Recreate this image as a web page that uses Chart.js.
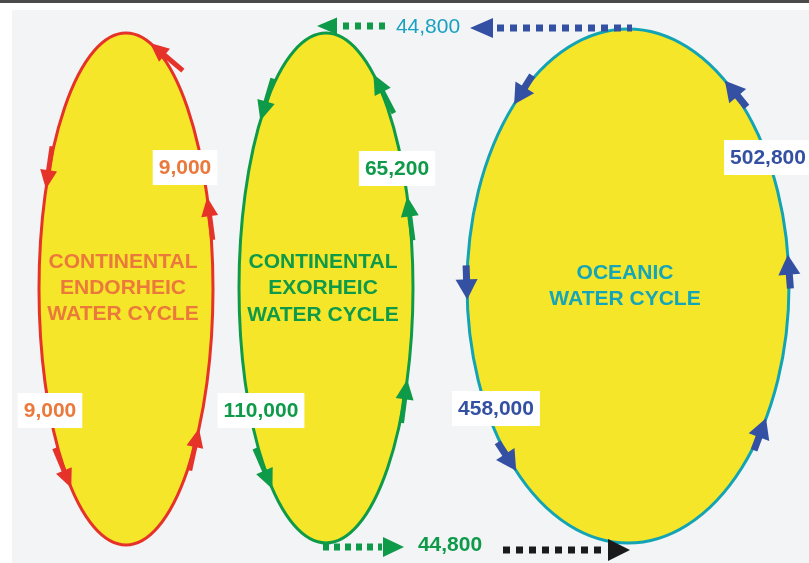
<!DOCTYPE html>
<html>
<head>
<meta charset="utf-8">
<script src="https://cdn.jsdelivr.net/npm/chart.js@4.4.1/dist/chart.umd.min.js"></script>
<style>
  html, body { margin: 0; padding: 0; background: #fff; }
</style>
</head>
<body>
<canvas id="chart" width="809" height="563"></canvas>
<script>
// ---- data (km3 / year) ----
var cycles = ['CONTINENTAL\nENDORHEIC\nWATER CYCLE', 'CONTINENTAL\nEXORHEIC\nWATER CYCLE', 'OCEANIC\nWATER CYCLE'];
var evaporation = [9000, 65200, 502800];     // rising side of each loop
var precipitation = [9000, 110000, 458000];  // falling side of each loop
var vaporTransport = [44800];                // ocean -> land, through the air
var riverRunoff = [44800];                   // land -> ocean, through rivers

// ---- layout, in scale units (scales are 0..809 x 0..563) ----
var loops = [
    { cx: 126, cy: 289, rx: 87, ry: 256, line: '#e5332a', text: '#ea793b', arrow: '#e5332a',
      titleY: [262, 288, 314], arrows: [-74, 203, -21, 129, 33], head: [19, 17], shaft: [24, 5],
      evapAt: [185, 167], precAt: [50, 410] },
    { cx: 326, cy: 288, rx: 87, ry: 255, line: '#0e9a48', text: '#0e9a48', arrow: '#0e9a48',
      titleY: [262, 288, 315], arrows: [221, -57, -21, 128, 21], head: [20, 18], shaft: [24, 5],
      evapAt: [397, 168], precAt: [261, 410] },
    { cx: 628, cy: 286, rx: 161, ry: 257, line: '#12a3b4', text: '#14a5b8', arrow: '#3450a2',
      titleY: [273, 299], arrows: [225, -53, 177, -7, 134, 31], head: [20, 22], shaft: [14, 7],
      evapAt: [768, 157], precAt: [496, 408] }
];

var fmt = function (v) { return v.toLocaleString('en-US'); };
var FONT = '"Liberation Sans", Arial, sans-serif';

function headAt(ctx, x, y, dx, dy, len, wid) {
    var bx = x - dx * len, by = y - dy * len;
    ctx.beginPath();
    ctx.moveTo(x, y);
    ctx.lineTo(bx - dy * wid / 2, by + dx * wid / 2);
    ctx.lineTo(bx + dy * wid / 2, by - dx * wid / 2);
    ctx.closePath();
    ctx.fill();
}

function dottedArrow(ctx, x0, x1, y, color, dash, tipX, headLen, headH) {
    ctx.save();
    ctx.strokeStyle = color;
    ctx.fillStyle = color;
    ctx.lineWidth = 7;
    ctx.setLineDash(dash);
    ctx.beginPath();
    ctx.moveTo(x0, y);
    ctx.lineTo(x1, y);
    ctx.stroke();
    ctx.setLineDash([]);
    var dir = tipX > x1 ? 1 : -1;
    headAt(ctx, tipX, y, dir, 0, headLen, headH);
    ctx.restore();
}

function valueBox(ctx, txt, x, y, color) {
    ctx.font = 'bold 21px ' + FONT;
    var w = ctx.measureText(txt).width + 12;
    ctx.fillStyle = '#ffffff';
    ctx.fillRect(x - w / 2, y - 17, w, 35);
    ctx.fillStyle = color;
    ctx.textAlign = 'center';
    ctx.textBaseline = 'middle';
    ctx.fillText(txt, x, y + 1);
}

var diagram = {
    id: 'waterCycle',
    beforeDraw: function (chart) {
        var ctx = chart.ctx;
        ctx.save();
        ctx.fillStyle = '#ffffff';
        ctx.fillRect(0, 0, chart.width, chart.height);
        ctx.fillStyle = '#4b4b4b';
        ctx.fillRect(0, 0, chart.width, 3);
        ctx.fillStyle = '#f3f4f6';
        ctx.fillRect(12, 10, chart.width - 12, chart.height - 10);
        ctx.restore();
    },
    afterDraw: function (chart) {
        var ctx = chart.ctx;
        var sx = function (v) { return chart.scales.x.getPixelForValue(v); };
        var sy = function (v) { return chart.scales.y.getPixelForValue(v); };
        ctx.save();

        loops.forEach(function (L, i) {
            var cx = sx(L.cx), cy = sy(L.cy);
            var rx = sx(L.cx + L.rx) - cx, ry = sy(L.cy + L.ry) - cy;

            ctx.beginPath();
            ctx.ellipse(cx, cy, rx, ry, 0, 0, Math.PI * 2);
            ctx.fillStyle = '#f6e629';
            ctx.fill();
            ctx.lineWidth = 3;
            ctx.strokeStyle = L.line;
            ctx.stroke();

            // arrows follow the loop: up on the right, down on the left
            ctx.fillStyle = L.arrow;
            ctx.strokeStyle = L.arrow;
            L.arrows.forEach(function (deg) {
                var t = deg * Math.PI / 180;
                var x = cx + rx * Math.cos(t), y = cy + ry * Math.sin(t);
                var dx = rx * Math.sin(t), dy = -ry * Math.cos(t);
                var n = Math.hypot(dx, dy); dx /= n; dy /= n;
                headAt(ctx, x, y, dx, dy, L.head[0], L.head[1]);
                ctx.lineWidth = L.shaft[1];
                ctx.lineCap = 'butt';
                ctx.beginPath();
                ctx.moveTo(x - dx * (L.head[0] - 1), y - dy * (L.head[0] - 1));
                ctx.lineTo(x - dx * (L.head[0] + L.shaft[0]), y - dy * (L.head[0] + L.shaft[0]));
                ctx.stroke();
            });

            // title
            ctx.font = 'bold 21px ' + FONT;
            ctx.fillStyle = L.text;
            ctx.textAlign = 'center';
            ctx.textBaseline = 'middle';
            cycles[i].split('\n').forEach(function (line, k) {
                ctx.fillText(line, cx - 3, sy(L.titleY[k]));
            });

            var labelColor = i === 2 ? '#3450a2' : L.text;
            valueBox(ctx, fmt(evaporation[i]), sx(L.evapAt[0]), sy(L.evapAt[1]), labelColor);
            valueBox(ctx, fmt(precipitation[i]), sx(L.precAt[0]), sy(L.precAt[1]), labelColor);
        });

        // vapour carried from ocean to land (top)
        dottedArrow(ctx, sx(343), sx(386), sy(26), '#0e9a48', [6, 6], sx(317), 20, 17);
        dottedArrow(ctx, sx(497), sx(632), sy(28), '#3450a2', [7, 6], sx(470), 23, 20);
        ctx.font = '21px ' + FONT;
        ctx.fillStyle = '#1aa1c1';
        ctx.textAlign = 'center';
        ctx.textBaseline = 'middle';
        ctx.fillText(fmt(vaporTransport[0]), sx(428), sy(27));

        // river runoff from land to ocean (bottom)
        dottedArrow(ctx, sx(323), sx(382), sy(547), '#0e9a48', [6, 5], sx(404), 21, 20);
        dottedArrow(ctx, sx(503), sx(606), sy(550), '#1a1a1a', [7, 6], sx(630), 22, 22);
        ctx.font = 'bold 21px ' + FONT;
        ctx.fillStyle = '#0e9a48';
        ctx.fillText(fmt(riverRunoff[0]), sx(450), sy(545));

        ctx.restore();
    }
};

new Chart(document.getElementById('chart').getContext('2d'), {
    type: 'scatter',
    data: { datasets: [{ data: [], pointRadius: 0 }] },
    options: {
        responsive: false,
        animation: false,
        layout: { padding: 0 },
        plugins: { legend: { display: false }, tooltip: { enabled: false } },
        scales: {
            x: { type: 'linear', min: 0, max: 809, display: false },
            y: { type: 'linear', min: 0, max: 563, reverse: true, display: false }
        }
    },
    plugins: [diagram]
});
</script>
</body>
</html>
